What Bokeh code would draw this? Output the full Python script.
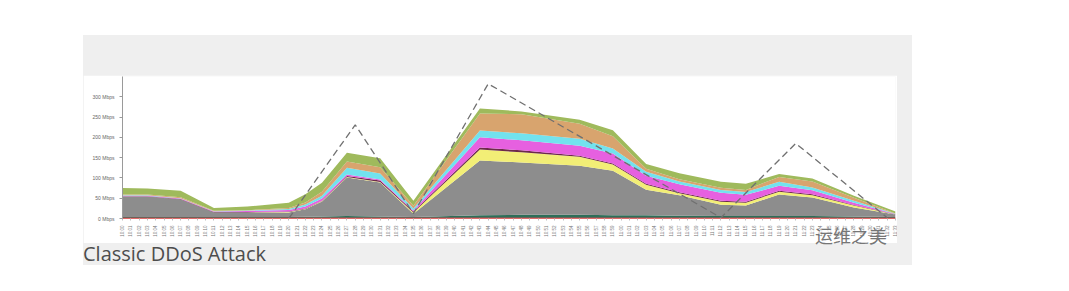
import math
from bokeh.plotting import figure
from bokeh.models import ColumnDataSource, Range1d, FixedTicker, Div, Spacer
from bokeh.layouts import row, column
from bokeh.embed import file_html
from bokeh.resources import INLINE

# x tick labels (one per minute)
time_labels = [f"{10 + i // 60:02d}:{i % 60:02d}" for i in range(94)]

# y tick labels
y_ticks = [0, 50, 100, 150, 200, 250, 300]
y_tick_labels = ["0 Mbps", "50 Mbps", "100 Mbps", "150 Mbps", "200 Mbps", "250 Mbps", "300 Mbps"]

# sample times of the stacked series
sample_times = ["10:00", "10:03", "10:07", "10:11", "10:15", "10:20", "10:22", "10:24",
                "10:27", "10:31", "10:35", "10:43", "10:48", "10:55", "10:59", "11:03",
                "11:07", "11:12", "11:15", "11:19", "11:23", "11:28", "11:33"]

brown   = [3, 3, 3, 3, 3, 3, 3, 3, 3, 3, 3, 3, 3, 3, 3, 3, 3, 3, 3, 3, 3, 3, 3]
teal    = [1, 1, 1, 1, 1, 1, 1.5, 2, 3, 2, 1, 5, 6, 6, 5, 5, 4, 3, 3, 3, 3, 2, 1]
gray    = [50, 50, 43, 11, 11, 11, 18, 37, 95, 84, 8, 135, 129, 121, 110, 63, 50, 28, 26, 53, 46, 22, 6]
yellow  = [0, 0, 0, 0, 0, 1, 1, 1, 1, 1, 2.5, 27, 25, 22, 15, 12, 5, 7, 7, 7, 5, 5, 0]
maroon  = [1, 1, 1, 1, 1, 1, 1, 1, 2.5, 3.7, 2.5, 5, 5, 2.5, 2.5, 2.5, 2.5, 2.5, 2.5, 2.5, 2.5, 1, 0.5]
magenta = [1, 1, 1, 1, 2.5, 3.7, 5, 5, 3.7, 2.5, 2.5, 25, 25, 25, 25, 20, 20, 20, 17, 12, 10, 6, 0.7]
cyan    = [1, 1, 1, 1, 1, 2.5, 5, 7, 17, 15, 5, 17, 17, 17, 12, 10, 7, 7, 7, 10, 7, 5, 0.5]
tan     = [2, 2, 2.5, 1, 1, 2.5, 5, 10, 15, 15, 7, 42, 47, 37, 30, 7, 5, 5, 5, 12, 15, 7, 0.7]
olive   = [16, 15, 16, 7, 9, 13, 20, 22, 22, 22, 12, 12, 7, 10, 15, 12, 15, 15, 15, 7, 7, 5, 5]

# dashed overlay
dash_times = ["10:20", "10:28", "10:35", "10:44", "11:12", "11:21", "11:32"]
dash_values = [0, 231, 12, 332, 2, 185, 2]

series_names = ["brown", "teal", "gray", "yellow", "maroon", "magenta", "cyan", "tan", "olive"]
series_colors = ["#5c2a22", "#2e6e58", "#8d8d8d", "#f2ee76", "#6d2a4a", "#e660e0", "#72e2ee", "#d8a46e", "#9fba5c"]

x_idx = [time_labels.index(t) for t in sample_times]
source = ColumnDataSource(dict(x=x_idx, brown=brown, teal=teal, gray=gray, yellow=yellow,
                               maroon=maroon, magenta=magenta, cyan=cyan, tan=tan, olive=olive))

p = figure(width=814, height=168, output_backend="svg", toolbar_location=None,
           x_range=Range1d(0, len(time_labels) - 1), y_range=Range1d(0, 350),
           min_border_left=39, min_border_right=2, min_border_top=1, min_border_bottom=25)
p.border_fill_color = "white"
p.background_fill_color = "white"
p.outline_line_color = None
p.grid.grid_line_color = None

p.varea_stack(stackers=series_names, x="x", color=series_colors, source=source)

p.line(x=[time_labels.index(t) for t in dash_times], y=dash_values,
       line_color="#707070", line_width=1.3, line_dash="7 4")

# y axis
p.yaxis.ticker = FixedTicker(ticks=y_ticks)
p.yaxis.major_label_overrides = {t: l for t, l in zip(y_ticks, y_tick_labels)}
p.yaxis.major_label_text_font_size = "5px"
p.yaxis.major_label_text_color = "#666666"
p.yaxis.axis_line_color = "#9a9a9a"
p.yaxis.major_tick_line_color = "#9a9a9a"
p.yaxis.major_tick_out = 3
p.yaxis.major_tick_in = 0
p.yaxis.minor_tick_line_color = None

# x axis
p.xaxis.ticker = FixedTicker(ticks=list(range(len(time_labels))))
p.xaxis.major_label_overrides = {i: l for i, l in enumerate(time_labels)}
p.xaxis.major_label_orientation = math.pi / 2
p.xaxis.major_label_text_font_size = "4.5px"
p.xaxis.major_label_text_color = "#777777"
p.xaxis.axis_line_color = "#e06a6a"
p.xaxis.axis_line_width = 1.2
p.xaxis.major_tick_line_color = "#c0c0c0"
p.xaxis.major_tick_out = 2
p.xaxis.major_tick_in = 0
p.xaxis.minor_tick_line_color = None

title = Div(text="Classic DDoS Attack", width=700, height=22, margin=0,
            styles={"font-size": "20px", "color": "#4d4d4d", "font-family": "Open Sans",
                    "line-height": "22px", "white-space": "nowrap"})

watermark = Div(text="运维之美", width=129, height=22, margin=0,
                styles={"font-size": "18px", "color": "#767676",
                        "font-family": "Noto Sans CJK SC", "line-height": "22px",
                        "white-space": "nowrap", "transform": "translate(32px, -19px)",
                        "z-index": "5"})

panel = column(
    Spacer(width=829, height=40),
    row(p, Spacer(width=15, height=168)),
    row(title, watermark),
    styles={"background-color": "#efefef"},
)
root = row(Spacer(width=83, height=291), column(Spacer(width=829, height=35), panel))

open("out.html", "w").write(file_html(root, INLINE))
